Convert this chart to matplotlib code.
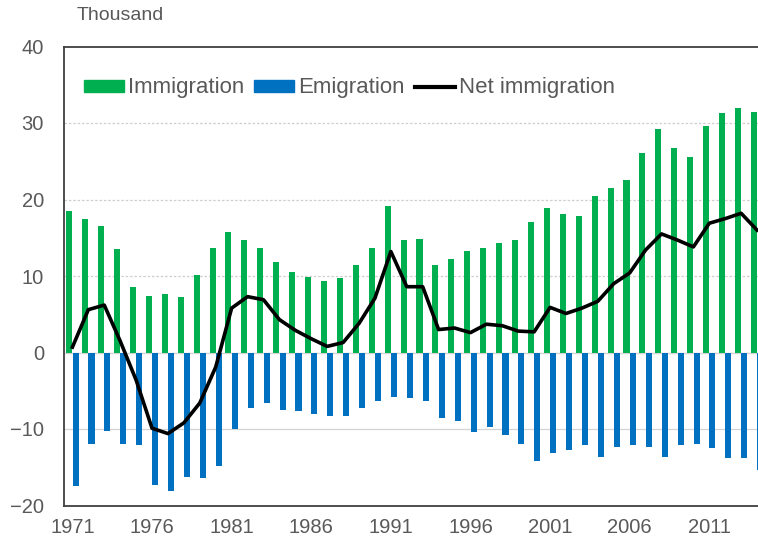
import matplotlib
matplotlib.use("Agg")
import matplotlib.pyplot as plt
from matplotlib.patches import Patch
from matplotlib.lines import Line2D
import numpy as np

# data (thousand persons)
years = list(range(1971, 2015))
immigration = [18.5, 17.4, 16.6, 13.5, 8.5, 7.4, 7.6, 7.2, 10.1, 13.7,
               15.8, 14.7, 13.7, 11.8, 10.5, 9.9, 9.3, 9.7, 11.4, 13.7,
               19.1, 14.7, 14.9, 11.5, 12.2, 13.3, 13.7, 14.3, 14.7, 17.0,
               18.9, 18.1, 17.9, 20.4, 21.5, 22.5, 26.1, 29.2, 26.7, 25.6,
               29.6, 31.3, 31.9, 31.5]
emigration = [-17.5, -11.9, -10.2, -11.9, -12.1, -17.3, -18.1, -16.3, -16.4, -14.8,
              -10.0, -7.3, -6.6, -7.5, -7.7, -8.1, -8.3, -8.3, -7.3, -6.4,
              -5.8, -6.0, -6.3, -8.5, -9.0, -10.4, -9.8, -10.8, -11.9, -14.2,
              -13.2, -12.7, -12.1, -13.6, -12.3, -12.1, -12.3, -13.6, -12.1, -11.9,
              -12.5, -13.8, -13.8, -15.4]
net_immigration = [0.7, 5.6, 6.2, 1.5, -3.6, -9.9, -10.6, -9.2, -6.6, -1.9,
                   5.8, 7.3, 6.9, 4.3, 2.9, 1.8, 0.8, 1.3, 3.8, 7.1,
                   13.2, 8.6, 8.6, 3.0, 3.2, 2.6, 3.7, 3.5, 2.8, 2.7,
                   5.9, 5.1, 5.8, 6.7, 9.0, 10.4, 13.4, 15.5, 14.7, 13.8,
                   16.9, 17.5, 18.2, 16.0]
xtick_years = [1971, 1976, 1981, 1986, 1991, 1996, 2001, 2006, 2011]
yticks = [-20, -10, 0, 10, 20, 30, 40]

GREEN = "#00B050"
BLUE = "#0070C0"
TXT = "#595959"

plt.rcParams['font.family'] = ['Liberation Sans', 'DejaVu Sans']

W, H = 758, 546
fig = plt.figure(figsize=(W / 100, H / 100), dpi=100)
ax = fig.add_axes([63.5 / W, (H - 505.5) / H, 1 - 63.5 / W, (505.5 - 46.5) / H])

x = np.array(years)
bw = 0.38
ax.bar(x - 0.2, immigration, width=bw, color=GREEN, zorder=3)
ax.bar(x + 0.2, emigration, width=bw, color=BLUE, zorder=3)
ax.plot(x, net_immigration, color="black", lw=2.6, zorder=4,
        solid_joinstyle="round")

ax.set_xlim(1970.44, 2014.06)
ax.set_ylim(-20, 40)
ax.set_yticks(yticks)
ax.set_xticks(xtick_years)

# grid lines
for v in [10, 20, 30]:
    ax.axhline(v, color="#cfcfcf", lw=0.9, ls=(0, (2, 1.5)), zorder=1)
ax.axhline(-10, color="#d4d4d4", lw=0.9, zorder=1)
ax.axhline(0, color="#d4d4d4", lw=1.0, zorder=2)

for s in ["left", "top", "bottom"]:
    ax.spines[s].set_color("#404040")
    ax.spines[s].set_linewidth(1.3)
ax.spines["right"].set_visible(False)

ax.tick_params(axis="y", length=0, pad=14, labelsize=14.5, labelcolor=TXT)
ax.tick_params(axis="x", length=0, pad=9, labelsize=14.5, labelcolor=TXT)

# legend
handles = [Patch(color=GREEN), Patch(color=BLUE), Line2D([], [], color="black", lw=3)]
labels = ["Immigration", "Emigration", "Net immigration"]
fig.legend(handles, labels, loc="center left", bbox_to_anchor=(84 / W, 1 - 88 / H),
           ncol=3, frameon=False, fontsize=16, labelcolor=TXT,
           handlelength=1.8, handleheight=0.45, handletextpad=0.18,
           columnspacing=0.45, borderpad=0, borderaxespad=0)

fig.text(77 / W, 1 - 16 / H, "Thousand", fontsize=14, color=TXT,
         ha="left", va="center")

fig.savefig("out.png", dpi=100)
